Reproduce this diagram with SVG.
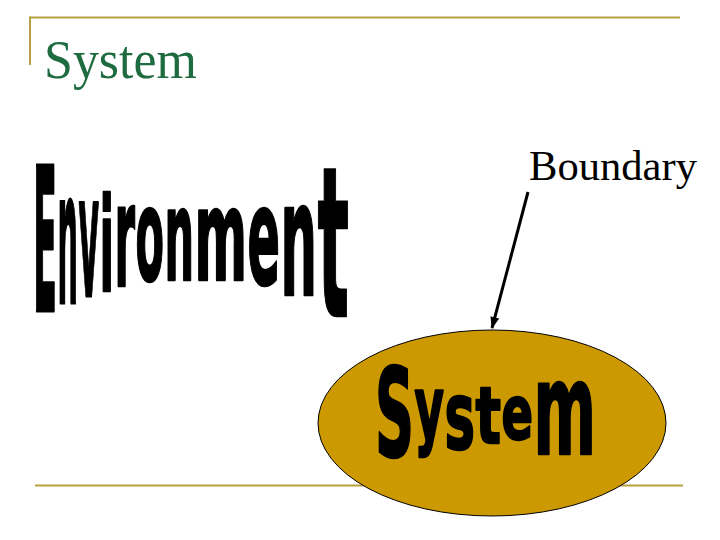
<svg xmlns="http://www.w3.org/2000/svg" width="720" height="540" viewBox="0 0 720 540">
  <defs>
    <style>
      .rule { stroke: #B8A040; stroke-width: 2; fill: none; }
      .title { font-family: "Liberation Serif", "Times New Roman", serif; font-size: 54px; fill: #1E6B40; }
      .label { font-family: "Liberation Serif", "Times New Roman", serif; font-size: 43px; fill: #000; }
      .wa { font-family: "DejaVu Sans", sans-serif; font-weight: bold; fill: #000; stroke: #000; stroke-width: 2; stroke-linejoin: round; vector-effect: non-scaling-stroke; }
      .conn { stroke: #000; stroke-width: 3; fill: none; }
    </style>
    <marker id="arrow" markerUnits="userSpaceOnUse" markerWidth="12" markerHeight="10" refX="11" refY="5" orient="auto">
      <path d="M0,0.5 L12,5 L0,9.5 z" fill="#000"/>
    </marker>
  </defs>

  <rect width="720" height="540" fill="#fff"/>

  <g id="frame">
    <line class="rule" x1="30" y1="17.5" x2="680" y2="17.5"/>
    <line class="rule" x1="30" y1="16.5" x2="30" y2="65"/>
    <line class="rule" x1="35" y1="485.5" x2="683" y2="485.5"/>
  </g>

  <g id="title">
    <text class="title" x="44" y="78" textLength="153" lengthAdjust="spacingAndGlyphs">System</text>
  </g>

  <g id="environment">
    <text class="wa" font-size="35.1" transform="translate(33,311) scale(1,5.667)" textLength="24" lengthAdjust="spacingAndGlyphs">E</text>
    <text class="wa" font-size="28.8" transform="translate(57.5,303) scale(1,6.448)" textLength="20.5" lengthAdjust="spacingAndGlyphs">n</text>
    <text class="wa" font-size="31.4" transform="translate(78.5,296) scale(1,5.471)" textLength="20.5" lengthAdjust="spacingAndGlyphs">v</text>
    <text class="wa" font-size="42.3" transform="translate(99.5,291) scale(1,3.080)" textLength="14.5" lengthAdjust="spacingAndGlyphs">i</text>
    <text class="wa" font-size="41.6" transform="translate(114.5,286) scale(1,3.435)" textLength="20.5" lengthAdjust="spacingAndGlyphs">r</text>
    <text class="wa" font-size="41.5" transform="translate(135.5,280.1) scale(1,3.101)" textLength="28.5" lengthAdjust="spacingAndGlyphs">o</text>
    <text class="wa" font-size="41.4" transform="translate(164.5,279.5) scale(1,3.041)" textLength="29.5" lengthAdjust="spacingAndGlyphs">n</text>
    <text class="wa" font-size="50.4" transform="translate(194.5,280) scale(1,2.516)" textLength="52.5" lengthAdjust="spacingAndGlyphs">m</text>
    <text class="wa" font-size="47.9" transform="translate(247.5,284) scale(1,2.833)" textLength="32.5" lengthAdjust="spacingAndGlyphs">e</text>
    <text class="wa" font-size="51.3" transform="translate(280.5,295) scale(1,3.080)" textLength="36.5" lengthAdjust="spacingAndGlyphs">n</text>
    <text class="wa" font-size="65.9" transform="translate(317.5,316) scale(1,3.171)" textLength="31.5" lengthAdjust="spacingAndGlyphs">t</text>
  </g>

  <g id="boundary-label">
    <text class="label" x="529" y="180" textLength="168" lengthAdjust="spacingAndGlyphs">Boundary</text>
  </g>

  <g id="system">
    <ellipse cx="492" cy="423" rx="174" ry="93" fill="#CC9900" stroke="#000" stroke-width="1"/>
    <text class="wa" font-size="54.2" transform="translate(375,456.2) scale(1,2.264)" textLength="39" lengthAdjust="spacingAndGlyphs">S</text>
    <text class="wa" font-size="45.2" transform="translate(414.5,437.8) scale(1,1.934)" textLength="29.5" lengthAdjust="spacingAndGlyphs">y</text>
    <text class="wa" font-size="51.3" transform="translate(444.5,448.6) scale(1,1.830)" textLength="30.5" lengthAdjust="spacingAndGlyphs">s</text>
    <text class="wa" font-size="53.3" transform="translate(475.5,443) scale(1,1.484)" textLength="25.5" lengthAdjust="spacingAndGlyphs">t</text>
    <text class="wa" font-size="46.5" transform="translate(501.5,438.9) scale(1,1.609)" textLength="31.5" lengthAdjust="spacingAndGlyphs">e</text>
    <text class="wa" font-size="60" transform="translate(533.5,454) scale(1,2.143)" textLength="62.5" lengthAdjust="spacingAndGlyphs">m</text>
  </g>

  <g id="connectors">
    <line class="conn" x1="528" y1="192" x2="492" y2="328" marker-end="url(#arrow)"/>
  </g>
</svg>
